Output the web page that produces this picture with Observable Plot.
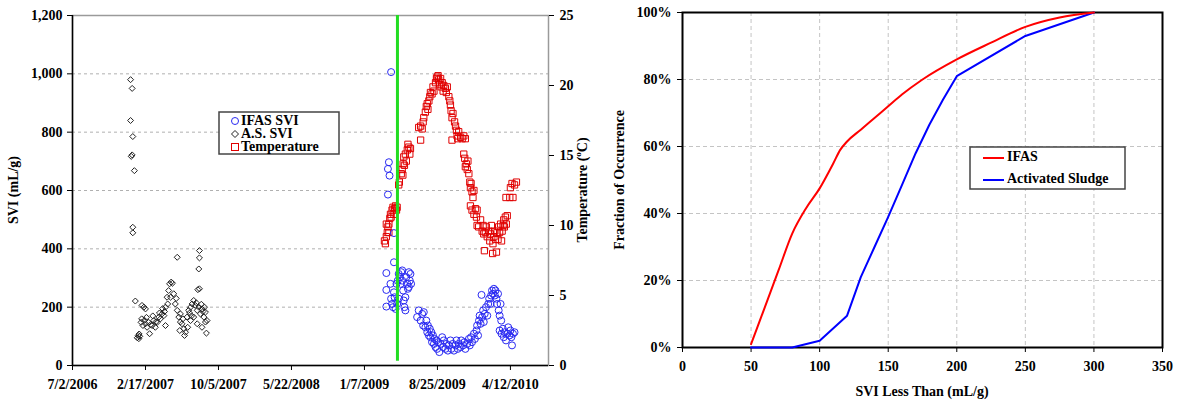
<!DOCTYPE html>
<html><head><meta charset="utf-8">
<script src="https://cdn.jsdelivr.net/npm/d3@7"></script>
<script src="https://cdn.jsdelivr.net/npm/@observablehq/plot@0.6"></script>
<style>
body{margin:0;background:#fff;}
#wrap{display:flex;width:1178px;height:402px;}
svg text{font-family:'Liberation Serif','Times New Roman',serif;}
</style></head><body><div id="wrap"></div>
<script>
const FONT = "'Liberation Serif','Times New Roman',serif";

// ---------- Left chart data ----------
const xTickDates = ["2006-07-02","2007-02-17","2007-10-05","2008-05-22","2009-01-07","2009-08-25","2010-04-12"];
const xDomain = ["2006-07-02","2010-08-10"];
const sviTicks = [0,200,400,600,800,1000,1200];
const tempTicks = [0,5,10,15,20,25];
const greenDate = "2009-04-21";
const greenSpan = [15,1200];

const asSVI = [
["2007-01-01",980],["2007-01-06",950],["2007-01-01",840],["2007-01-08",785],["2007-01-03",717],["2007-01-06",722],["2007-01-13",668],["2007-01-08",474],["2007-01-08",455],
["2007-01-16",221],["2007-01-22",95],["2007-01-25",103],["2007-01-28",108],["2007-01-30",100],["2007-01-27",92],
["2007-02-03",148],["2007-02-06",206],["2007-02-09",137],["2007-02-12",200],["2007-02-17",143],["2007-02-17",194],["2007-02-05",160],["2007-02-14",155],["2007-02-20",165],
["2007-02-22",131],["2007-02-27",148],["2007-03-02",109],["2007-03-05",140],["2007-03-10",137],["2007-03-12",170],["2007-03-15",154],["2007-03-20",131],["2007-03-22",150],
["2007-03-26",148],["2007-03-31",166],["2007-04-02",180],["2007-04-05",160],["2007-04-10",177],["2007-04-12",195],["2007-04-16",171],["2007-04-18",185],
["2007-04-21",137],["2007-04-21",200],["2007-04-26",234],["2007-04-28",211],["2007-05-01",257],["2007-05-04",280],["2007-05-07",234],["2007-05-09",286],["2007-05-13",282],
["2007-05-17",246],["2007-05-22",211],["2007-05-25",230],["2007-05-28",371],["2007-05-28",189],["2007-06-02",166],["2007-06-05",120],["2007-06-07",177],["2007-06-07",149],
["2007-06-12",143],["2007-06-15",160],["2007-06-18",126],["2007-06-20",103],["2007-06-23",114],["2007-06-28",166],["2007-06-30",131],["2007-07-03",189],["2007-07-06",180],
["2007-07-09",200],["2007-07-09",154],["2007-07-12",170],["2007-07-14",211],["2007-07-19",223],["2007-07-19",166],["2007-07-24",206],["2007-07-27",215],["2007-07-30",189],["2007-07-30",143],
["2007-08-01",260],["2007-08-04",200],["2007-08-04",331],["2007-08-06",394],["2007-08-06",369],["2007-08-06",263],["2007-08-09",177],["2007-08-12",210],["2007-08-14",194],["2007-08-14",131],
["2007-08-17",185],["2007-08-20",166],["2007-08-22",200],["2007-08-25",183],["2007-08-25",149],["2007-08-28",111],["2007-08-30",154]
];

const ifasSVI = [
["2009-04-01",1006],["2009-03-25",697],["2009-03-22",674],["2009-03-27",651],["2009-03-22",586],["2009-04-10",454],["2009-04-10",354],
["2009-03-17",317],["2009-03-17",259],["2009-03-17",202],["2009-03-30",280],["2009-04-01",229],["2009-04-04",211],["2009-04-07",200],["2009-04-10",251],
["2009-04-12",234],["2009-04-15",194],["2009-04-18",280],["2009-04-20",211],["2009-04-22",291],["2009-04-25",314],["2009-04-25",229],["2009-04-28",303],
["2009-05-01",280],["2009-05-03",320],["2009-05-06",291],["2009-05-06",326],["2009-05-09",257],["2009-05-11",223],["2009-05-13",200],["2009-05-16",234],["2009-05-16",189],
["2009-05-19",303],["2009-05-22",280],["2009-05-24",263],["2009-05-27",320],["2009-05-27",269],["2009-05-30",291],["2009-06-01",314],["2009-06-03",280],
["2009-06-22",166],["2009-06-27",189],["2009-07-03",154],["2009-07-08",177],["2009-07-11",137],["2009-07-13",183],["2009-07-18",131],["2009-07-21",154],["2009-07-24",114],
["2009-07-26",137],["2009-07-29",103],["2009-08-01",126],["2009-08-03",97],["2009-08-06",114],["2009-08-08",80],["2009-08-11",103],["2009-08-14",74],["2009-08-16",91],
["2009-08-19",63],["2009-08-22",86],["2009-08-24",57],["2009-08-27",80],["2009-08-31",46],["2009-09-04",74],["2009-09-09",97],["2009-09-12",63],["2009-09-14",86],
["2009-09-19",57],["2009-09-22",74],["2009-09-27",51],["2009-09-30",69],["2009-10-05",86],["2009-10-08",57],["2009-10-12",74],["2009-10-16",51],["2009-10-21",69],
["2009-10-24",86],["2009-10-28",57],["2009-10-31",74],["2009-11-06",63],["2009-11-08",86],["2009-11-14",69],["2009-11-18",80],["2009-11-21",57],["2009-11-27",74],
["2009-12-02",91],["2009-12-05",69],["2009-12-09",97],["2009-12-12",80],["2009-12-18",109],["2009-12-21",91],["2009-12-26",120],["2009-12-28",137],["2009-12-31",103],
["2010-01-03",154],["2010-01-05",171],["2010-01-08",143],["2010-01-11",242],["2010-01-13",166],["2010-01-16",189],["2010-01-18",149],["2010-01-21",177],["2010-01-25",200],
["2010-01-29",171],["2010-02-01",211],["2010-02-04",229],["2010-02-08",211],["2010-02-10",240],["2010-02-13",257],["2010-02-16",246],["2010-02-19",263],["2010-02-22",240],
["2010-02-24",257],["2010-02-27",229],["2010-03-01",211],["2010-03-04",246],["2010-03-06",189],["2010-03-09",171],["2010-03-09",120],["2010-03-12",211],["2010-03-14",154],
["2010-03-15",109],["2010-03-19",126],["2010-03-22",97],["2010-03-25",114],["2010-03-29",86],["2010-04-02",109],["2010-04-05",131],["2010-04-09",103],["2010-04-12",120],
["2010-04-15",97],["2010-04-17",69],["2010-04-20",109],["2010-04-25",114]
];

const temperature = [
["2009-03-11",8.9],["2009-03-14",8.7],["2009-03-17",9.2],["2009-03-17",10.1],["2009-03-20",9.5],["2009-03-22",9.9],["2009-03-25",10.1],["2009-03-25",9.5],["2009-03-28",10.5],
["2009-03-30",10.8],["2009-04-01",10.6],["2009-04-04",11.1],["2009-04-07",11.3],["2009-04-10",10.8],["2009-04-12",11.2],["2009-04-15",11.4],["2009-04-18",11.1],["2009-04-20",11.3],
["2009-04-25",12.9],["2009-04-27",13.1],["2009-05-03",13.7],["2009-05-06",14.0],["2009-05-08",13.6],["2009-05-09",14.4],["2009-05-11",14.9],["2009-05-13",14.3],["2009-05-16",15.1],
["2009-05-19",14.6],["2009-05-22",15.4],["2009-05-24",15.8],["2009-05-27",15.6],["2009-05-30",15.1],["2009-06-01",15.5],
["2009-06-27",17.0],["2009-07-03",16.1],["2009-07-03",17.1],["2009-07-08",16.9],["2009-07-11",17.4],["2009-07-13",17.7],["2009-07-18",18.1],["2009-07-21",18.5],["2009-07-24",18.7],
["2009-07-26",18.3],["2009-07-29",18.9],["2009-08-01",19.2],["2009-08-03",19.5],["2009-08-08",19.4],["2009-08-11",19.9],["2009-08-14",19.6],["2009-08-19",20.2],["2009-08-22",20.5],
["2009-08-24",20.6],["2009-08-27",20.7],["2009-08-29",20.4],["2009-09-01",20.1],["2009-09-04",20.5],["2009-09-06",19.9],["2009-09-09",20.2],["2009-09-12",19.6],["2009-09-14",20.0],
["2009-09-19",19.8],["2009-09-22",19.5],["2009-09-25",19.9],["2009-09-30",19.2],["2009-10-03",18.9],["2009-10-05",18.6],["2009-10-07",18.2],["2009-10-10",17.7],["2009-10-10",16.1],
["2009-10-13",18.0],["2009-10-18",17.4],["2009-10-21",17.1],["2009-10-24",16.8],["2009-10-26",16.4],["2009-10-28",16.2],["2009-10-31",16.7],["2009-11-06",16.3],["2009-11-11",16.2],
["2009-11-16",16.4],["2009-11-16",15.1],["2009-11-19",14.8],["2009-11-21",16.2],["2009-11-21",14.2],["2009-11-24",14.4],["2009-11-27",14.0],["2009-11-29",14.6],["2009-12-02",13.7],
["2009-12-05",13.1],["2009-12-07",12.7],["2009-12-07",11.4],["2009-12-09",13.0],["2009-12-12",12.4],["2009-12-12",11.1],["2009-12-15",12.0],["2009-12-18",12.5],["2009-12-18",10.8],
["2009-12-23",11.2],["2009-12-26",10.6],["2009-12-28",11.1],["2009-12-28",10.0],["2010-01-02",9.9],["2010-01-08",10.4],["2010-01-13",9.6],["2010-01-16",10.0],["2010-01-18",9.4],
["2010-01-20",8.2],["2010-01-23",9.5],["2010-01-26",9.9],["2010-01-29",9.2],["2010-02-03",9.6],["2010-02-06",8.9],["2010-02-08",9.4],["2010-02-11",10.0],["2010-02-15",8.0],
["2010-02-16",8.7],["2010-02-19",9.2],["2010-02-21",9.6],["2010-02-24",9.0],["2010-02-27",8.1],["2010-03-01",9.5],["2010-03-04",9.0],["2010-03-06",9.9],["2010-03-09",9.5],
["2010-03-12",10.1],["2010-03-15",8.9],["2010-03-17",9.6],["2010-03-20",10.0],["2010-03-22",10.4],["2010-03-24",9.9],["2010-03-27",10.6],["2010-03-29",12.0],["2010-03-30",10.1],
["2010-04-02",10.7],["2010-04-10",12.0],["2010-04-12",12.7],["2010-04-17",13.0],["2010-04-20",12.0],["2010-04-25",12.9],["2010-05-01",13.1]
];

// ---------- Right chart data ----------
const cdfTicksX = [0,50,100,150,200,250,300,350];
const cdfTicksY = [0,20,40,60,80,100];
const ifasCDF = [[50,1],[60,12],[70,23],[80,34],[90,41.5],[100,47.5],[110,55],[115,59],[120,61.5],[130,65],[140,68.5],[150,72],[160,75.5],[175,80],[200,86],[225,91],[250,95.7],[275,98.5],[300,100]];
const asCDF = [[50,0],[80,0],[100,2],[120,9.5],[130,21],[140,30],[150,39],[160,48.5],[170,58],[180,66.5],[190,74],[200,81],[250,93],[300,100]];

// ---------- Build ----------
const P = s => new Date(s + "T00:00:00Z");
const fmtDate = d => `${d.getUTCMonth()+1}/${d.getUTCDate()}/${d.getUTCFullYear()}`;
const K = sviTicks[sviTicks.length-1] / tempTicks[tempTicks.length-1];

const asData = asSVI.map(([d,v]) => ({date: P(d), v}));
const ifasData = ifasSVI.map(([d,v]) => ({date: P(d), v}));
const tempData = temperature.map(([d,t]) => ({date: P(d), t}));

const BLUE = "#2a2af2", RED = "#e00000", BLK = "#222";

const left = Plot.plot({
  width: 600, height: 402,
  marginLeft: 72, marginRight: 52, marginTop: 15, marginBottom: 37,
  style: {fontFamily: FONT, fontSize: "14px", fontWeight: "bold", background: "#fff", color: "#000"},
  x: {type: "utc", domain: xDomain.map(P), axis: null},
  y: {domain: [0, 1200], axis: null},
  marks: [
    Plot.gridY(sviTicks.slice(1, -1), {stroke: "#b0b0b0", strokeOpacity: 1, strokeDasharray: "3,3"}),
    Plot.frame({stroke: "#9a9a9a", strokeWidth: 1.5}),
    Plot.ruleX([P(xDomain[0])], {stroke: "#000", strokeWidth: 1.5}),
    Plot.ruleY([0], {stroke: "#000", strokeWidth: 1.5}),
    Plot.dot(asData, {x: "date", y: "v", symbol: "diamond2", r: 2.7, stroke: BLK, strokeWidth: 1}),
    Plot.dot(tempData, {x: "date", y: d => d.t * K, symbol: "square2", r: 4, stroke: RED, strokeWidth: 1}),
    Plot.dot(ifasData, {x: "date", y: "v", symbol: "circle", r: 3.5, stroke: BLUE, strokeWidth: 1}),
    Plot.ruleX([P(greenDate)], {y1: greenSpan[0], y2: greenSpan[1], stroke: "#22dd22", strokeWidth: 3}),
    Plot.axisX({ticks: xTickDates.map(P), tickFormat: fmtDate, tickSize: 5, tickPadding: 9, stroke: "#000"}),
    Plot.axisY({ticks: sviTicks, tickFormat: d3.format(","), tickSize: 5, tickPadding: 5, label: null}),
    Plot.axisY({anchor: "right", ticks: tempTicks.map(t => t * K), tickFormat: d => d / K, tickSize: 5, tickPadding: 6, label: null})
  ]
});

const right = Plot.plot({
  width: 578, height: 402,
  marginLeft: 82, marginRight: 16, marginTop: 12, marginBottom: 55,
  style: {fontFamily: FONT, fontSize: "14px", fontWeight: "bold", background: "#fff", color: "#000"},
  x: {domain: [0, 350], axis: null},
  y: {domain: [0, 100], axis: null},
  marks: [
    Plot.gridX(cdfTicksX.slice(1, -1), {stroke: "#c4c4c4", strokeOpacity: 1, strokeDasharray: "4,3"}),
    Plot.gridY(cdfTicksY.slice(1, -1), {stroke: "#c4c4c4", strokeOpacity: 1, strokeDasharray: "4,3"}),
    Plot.frame({stroke: "#000", strokeWidth: 2}),
    Plot.axisX({ticks: cdfTicksX, tickSize: 5, tickPadding: 9, label: null}),
    Plot.axisY({ticks: cdfTicksY, tickFormat: d => d + "%", tickSize: 5, tickPadding: 6, label: null}),
    Plot.line(asCDF, {x: d => d[0], y: d => d[1], stroke: "#0000ff", strokeWidth: 2}),
    Plot.line(ifasCDF, {x: d => d[0], y: d => d[1], stroke: "#ff0000", strokeWidth: 2, curve: "monotone-x"})
  ]
});

document.getElementById("wrap").append(left, right);

// ---------- Titles & legends ----------
const L = d3.select(left);
const txt = (sel, x, y, s, opts = {}) => sel.append("text")
  .attr("x", x).attr("y", y).attr("font-family", FONT).attr("font-weight", "bold")
  .attr("font-size", opts.size || 14).attr("fill", "#000")
  .attr("text-anchor", opts.anchor || "middle").attr("dominant-baseline", "middle")
  .attr("transform", opts.rot ? `rotate(${opts.rot},${x},${y})` : null).text(s);

txt(L, 15, 190, "SVI (mL/g)", {rot: -90});
const tt = L.append("text").attr("font-family", FONT).attr("font-weight", "bold").attr("font-size", 14)
  .attr("text-anchor", "middle").attr("dominant-baseline", "middle")
  .attr("transform", "translate(584,190) rotate(-90)");
tt.append("tspan").text("Temperature (");
tt.append("tspan").attr("font-size", 9).attr("baseline-shift", "super").text("o");
tt.append("tspan").text("C)");

const lg = L.append("g");
lg.append("rect").attr("x", 219).attr("y", 112).attr("width", 120).attr("height", 42)
  .attr("fill", "#fff").attr("stroke", "#444").attr("stroke-width", 1.5);
lg.append("circle").attr("cx", 235).attr("cy", 121).attr("r", 3.5).attr("fill", "none").attr("stroke", BLUE);
lg.append("path").attr("d", "M235,130.5L238.5,134L235,137.5L231.5,134Z").attr("fill", "none").attr("stroke", BLK);
lg.append("rect").attr("x", 231.5).attr("y", 143.5).attr("width", 7).attr("height", 7).attr("fill", "none").attr("stroke", RED);
txt(lg, 241, 121.5, "IFAS SVI", {anchor: "start", size: 14});
txt(lg, 241, 134.5, "A.S. SVI", {anchor: "start", size: 14});
txt(lg, 241, 147.5, "Temperature", {anchor: "start", size: 14});

const R = d3.select(right);
txt(R, 21, 180, "Fraction of Occurrence", {rot: -90});
txt(R, 322, 393, "SVI Less Than (mL/g)");
const rg = R.append("g");
rg.append("rect").attr("x", 370).attr("y", 147).attr("width", 155).attr("height", 42)
  .attr("fill", "#fff").attr("stroke", "#444").attr("stroke-width", 1.5);
rg.append("line").attr("x1", 383).attr("x2", 404).attr("y1", 158).attr("y2", 158).attr("stroke", "#ff0000").attr("stroke-width", 2);
rg.append("line").attr("x1", 383).attr("x2", 404).attr("y1", 180).attr("y2", 180).attr("stroke", "#0000ff").attr("stroke-width", 2);
txt(rg, 407, 158, "IFAS", {anchor: "start", size: 14});
txt(rg, 407, 180, "Activated Sludge", {anchor: "start", size: 14});
</script></body></html>
